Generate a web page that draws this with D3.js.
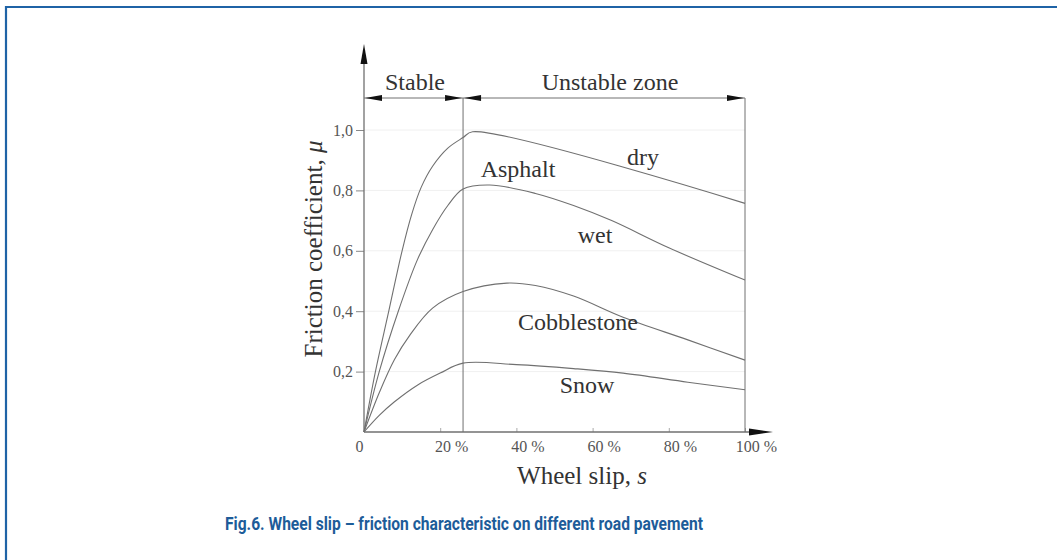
<!DOCTYPE html>
<html>
<head>
<meta charset="utf-8">
<style>
    body { margin: 0; background: #fff; }
    svg { display: block; }
    .lbl { font-family: 'Liberation Serif', 'DejaVu Serif', serif; fill: #333; }
    .tick text { font-family: 'Liberation Serif', serif; font-size: 16px; fill: #555; }
</style>
</head>
<body>
<svg width="1057" height="560"></svg>
<script src="https://d3js.org/d3.v7.min.js"></script>
<script>
    // wheel slip (%) and friction coefficient for each pavement
    const drySlip = [0, 3, 6.5, 10, 12.5, 15, 18, 22, 26, 28.5, 100]
    const dryMu = [0, 0.2, 0.4, 0.6, 0.72, 0.81, 0.88, 0.94, 0.975, 0.994, 0.757]

    const wetSlip = [0, 4, 9, 14, 18, 22, 26, 33, 45, 55, 65, 80, 100]
    const wetMu = [0, 0.2, 0.4, 0.57, 0.67, 0.75, 0.805, 0.818, 0.79, 0.75, 0.70, 0.61, 0.503]

    const cobbleSlip = [0, 4, 8, 12, 18, 26, 37.5, 45, 55, 68, 85, 100]
    const cobbleMu = [0, 0.13, 0.24, 0.32, 0.41, 0.465, 0.493, 0.485, 0.45, 0.38, 0.305, 0.238]

    const snowSlip = [0, 4, 8, 14, 20, 26, 40, 55, 68, 85, 100]
    const snowMu = [0, 0.055, 0.1, 0.155, 0.195, 0.228, 0.223, 0.21, 0.195, 0.165, 0.14]

    const xTicks = [0, 20, 40, 60, 80, 100]
    const yTicks = [0.2, 0.4, 0.6, 0.8, 1.0]
    const stableLimit = 26   // boundary between stable and unstable zone (%)

    const svg = d3.select("svg")

    // blue frame, only top and left edges show
    svg.append("path")
        .attr("d", "M6,560 V7 H1057")
        .attr("fill", "none")
        .attr("stroke", "#1f63a6")
        .attr("stroke-width", 2.2)

    let x = d3.scaleLinear().domain([0, 100]).range([364, 745])
    let y = d3.scaleLinear().domain([0, 1]).range([432, 130])

    // faint grid
    svg.append("g")
        .selectAll("line")
        .data(yTicks)
        .join("line")
        .attr("x1", x(0)).attr("x2", x(100))
        .attr("y1", d => y(d)).attr("y2", d => y(d))
        .attr("stroke", "#f0f0f0")

    // axes with ticks
    let yAxis = svg.append("g")
        .attr("transform", `translate(${x(0)},0)`)
        .call(d3.axisLeft(y).tickValues(yTicks).tickSize(8).tickPadding(3)
            .tickFormat(d => d3.format(".1f")(d).replace(".", ",")))
    yAxis.select(".domain").remove()
    yAxis.selectAll(".tick line").attr("stroke", "#888")

    let xAxis = svg.append("g")
        .attr("transform", `translate(0,${y(0)})`)
        .call(d3.axisBottom(x).tickValues(xTicks).tickSize(-4).tickPadding(9)
            .tickFormat(d => d === 0 ? "0" : d + " %"))
    xAxis.select(".domain").remove()
    xAxis.selectAll(".tick line").attr("stroke", "#aaa")
    xAxis.selectAll(".tick text").attr("dx", d => d === 0 ? -5 : 11)

    const ink = "#707070"

    // axis lines with arrowheads
    svg.append("line").attr("x1", x(0)).attr("x2", x(0)).attr("y1", y(0)).attr("y2", 55)
        .attr("stroke", ink).attr("stroke-width", 1.3)
    svg.append("line").attr("x1", x(0)).attr("x2", 760).attr("y1", y(0)).attr("y2", y(0))
        .attr("stroke", ink).attr("stroke-width", 1.3)

    function arrow(tx, ty, dir, len, hw) {
        let p
        if (dir === "up") p = [[tx, ty], [tx - hw, ty + len], [tx + hw, ty + len]]
        if (dir === "right") p = [[tx, ty], [tx - len, ty - hw], [tx - len, ty + hw]]
        if (dir === "left") p = [[tx, ty], [tx + len, ty - hw], [tx + len, ty + hw]]
        svg.append("path").attr("d", "M" + p.join("L") + "Z").attr("fill", "#111")
    }
    arrow(x(0), 44, "up", 20, 3.5)
    arrow(773, y(0), "right", 24, 3.5)

    // zone markers
    const zoneY = 98
    svg.append("line").attr("x1", x(0)).attr("x2", x(100)).attr("y1", zoneY).attr("y2", zoneY)
        .attr("stroke", ink)
    svg.append("line").attr("x1", x(stableLimit)).attr("x2", x(stableLimit)).attr("y1", zoneY).attr("y2", y(0))
        .attr("stroke", ink)
    svg.append("line").attr("x1", x(100)).attr("x2", x(100)).attr("y1", zoneY).attr("y2", y(0))
        .attr("stroke", ink)
    arrow(x(0) + 1, zoneY, "left", 17, 3)
    arrow(x(stableLimit) - 1, zoneY, "right", 17, 3)
    arrow(x(stableLimit) + 1, zoneY, "left", 17, 3)
    arrow(x(100) - 1, zoneY, "right", 17, 3)

    svg.append("text").attr("class", "lbl").attr("x", 415).attr("y", 90)
        .attr("text-anchor", "middle").style("font-size", "24px").text("Stable")
    svg.append("text").attr("class", "lbl").attr("x", 610).attr("y", 90)
        .attr("text-anchor", "middle").style("font-size", "24px").text("Unstable zone")

    // curves
    let line = d3.line()
        .x(d => x(d[0]))
        .y(d => y(d[1]))
        .curve(d3.curveCatmullRom.alpha(0.5))

    let series = [
        d3.zip(drySlip, dryMu),
        d3.zip(wetSlip, wetMu),
        d3.zip(cobbleSlip, cobbleMu),
        d3.zip(snowSlip, snowMu)
    ]

    svg.append("g")
        .selectAll("path")
        .data(series)
        .join("path")
        .attr("d", line)
        .attr("fill", "none")
        .attr("stroke", ink)
        .attr("stroke-width", 1.1)

    // curve labels
    let curveLabels = [
        { t: "dry", x: 643, y: 165 },
        { t: "Asphalt", x: 518, y: 177 },
        { t: "wet", x: 595, y: 243 },
        { t: "Cobblestone", x: 578, y: 330 },
        { t: "Snow", x: 587, y: 393 }
    ]
    svg.append("g")
        .selectAll("text")
        .data(curveLabels)
        .join("text")
        .attr("class", "lbl")
        .attr("x", d => d.x)
        .attr("y", d => d.y)
        .attr("text-anchor", "middle")
        .style("font-size", "24px")
        .text(d => d.t)

    // axis titles
    let yTitle = svg.append("text").attr("class", "lbl")
        .attr("transform", "translate(322,249) rotate(-90)")
        .attr("text-anchor", "middle")
        .style("font-size", "25px")
    yTitle.append("tspan").text("Friction coefficient, ")
    yTitle.append("tspan").style("font-style", "italic").text("μ")

    let xTitle = svg.append("text").attr("class", "lbl")
        .attr("x", 582).attr("y", 484)
        .attr("text-anchor", "middle")
        .style("font-size", "25px")
    xTitle.append("tspan").text("Wheel slip, ")
    xTitle.append("tspan").style("font-style", "italic").text("s")

    // caption
    svg.append("text")
        .attr("x", 464).attr("y", 530)
        .attr("text-anchor", "middle")
        .attr("textLength", 478)
        .attr("lengthAdjust", "spacingAndGlyphs")
        .style("font-family", "Roboto, 'Open Sans', sans-serif")
        .style("font-weight", "700")
        .style("font-size", "18px")
        .style("fill", "#1d5c99")
        .text("Fig.6. Wheel slip – friction characteristic on different road pavement")
</script>
</body>
</html>
